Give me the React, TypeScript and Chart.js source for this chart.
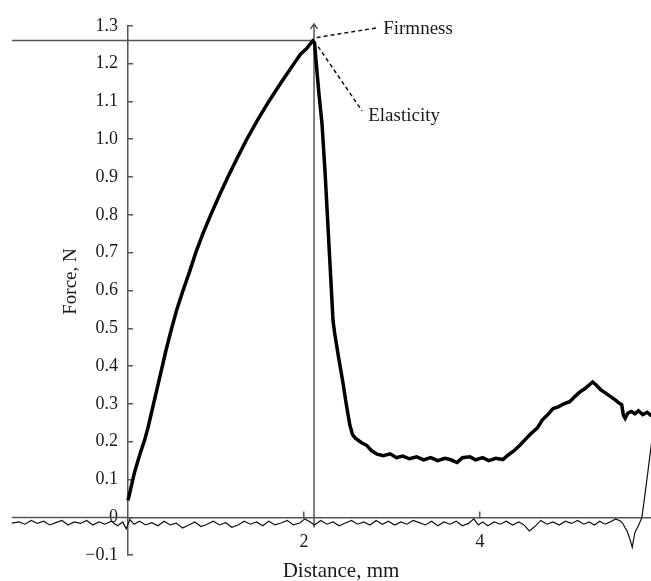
import React, { useEffect, useRef } from 'react';
import { Chart, registerables } from 'chart.js';

Chart.register(...registerables);

// ---- Data (distance in mm, force in N) ----
const compressionDistance = [
  0.0, 0.02, 0.045, 0.07, 0.1, 0.14, 0.19, 0.23, 0.27, 0.32, 0.375, 0.43, 0.49, 0.555, 0.625,
  0.7, 0.77, 0.85, 0.94, 1.035, 1.135, 1.24, 1.35, 1.47, 1.6, 1.74, 1.886, 1.96, 2.03, 2.08,
  2.1, 2.12, 2.136, 2.17, 2.205, 2.24, 2.27, 2.3, 2.33, 2.35, 2.395, 2.44, 2.48, 2.52, 2.55,
  2.58, 2.65, 2.715, 2.77, 2.83, 2.9, 2.98, 3.05, 3.12, 3.2, 3.28, 3.36, 3.44, 3.52, 3.6,
  3.66, 3.74, 3.8, 3.886, 3.95, 4.03, 4.1, 4.18, 4.26, 4.32, 4.38, 4.45, 4.51, 4.58, 4.65,
  4.71, 4.77, 4.83, 4.89, 4.95, 5.02, 5.08, 5.136, 5.19, 5.24, 5.28, 5.32, 5.37, 5.42, 5.48,
  5.54, 5.58, 5.61, 5.63, 5.65, 5.68, 5.72, 5.76, 5.8, 5.85, 5.9, 5.94, 5.98,
];
const compressionForce = [
  0.045, 0.065, 0.09, 0.115, 0.14, 0.17, 0.205, 0.24, 0.28, 0.33, 0.385, 0.44, 0.495, 0.55, 0.6,
  0.65, 0.7, 0.75, 0.8, 0.85, 0.9, 0.95, 1.0, 1.05, 1.1, 1.15, 1.2, 1.225, 1.24, 1.255,
  1.26, 1.255, 1.21, 1.12, 1.04, 0.91, 0.78, 0.65, 0.52, 0.485, 0.42, 0.36, 0.3, 0.245, 0.22,
  0.21, 0.198, 0.19, 0.176, 0.167, 0.163, 0.168, 0.158, 0.162, 0.155, 0.16, 0.152, 0.158, 0.15, 0.156,
  0.153, 0.145, 0.158, 0.16, 0.152, 0.158, 0.15, 0.156, 0.153, 0.165, 0.175, 0.19, 0.205, 0.222, 0.236,
  0.258, 0.272, 0.288, 0.292, 0.3, 0.306, 0.32, 0.332, 0.34, 0.35, 0.358, 0.35, 0.338, 0.33, 0.32,
  0.31, 0.302, 0.298, 0.27, 0.262, 0.276, 0.28, 0.274, 0.282, 0.272, 0.278, 0.27, 0.27,
];

// Return trace (probe withdrawal), listed from right to left
const returnDistance = [
  5.99, 5.965, 5.94, 5.91, 5.88, 5.86, 5.84, 5.8, 5.76, 5.73, 5.7, 5.67, 5.65, 5.62, 5.59,
  5.54, 5.48, 5.42, 5.36, 5.3, 5.24, 5.18, 5.11, 5.04, 4.97, 4.9, 4.83, 4.76, 4.69, 4.62,
  4.56, 4.5, 4.44, 4.37, 4.3, 4.23, 4.16, 4.09, 4.03, 3.98, 3.93, 3.87, 3.8, 3.73, 3.66,
  3.59, 3.52, 3.45, 3.38, 3.31, 3.24, 3.17, 3.1, 3.03, 2.96, 2.89, 2.82, 2.75, 2.68, 2.61,
  2.54, 2.47, 2.4, 2.33, 2.26, 2.19, 2.12, 2.07, 2.01, 1.95, 1.88, 1.81, 1.74, 1.67, 1.6,
  1.53, 1.46, 1.39, 1.32, 1.25, 1.18, 1.11, 1.04, 0.97, 0.9, 0.83, 0.76, 0.69, 0.62, 0.55,
  0.48, 0.41, 0.34, 0.27, 0.2, 0.13, 0.07, 0.02, -0.02, -0.06, -0.12, -0.19, -0.26, -0.33, -0.4,
  -0.47, -0.54, -0.61, -0.68, -0.75, -0.82, -0.89, -0.96, -1.03, -1.1, -1.17, -1.24, -1.32,
];
const returnForce = [
  0.26, 0.225, 0.181, 0.125, 0.07, 0.035, 0.0, -0.022, -0.04, -0.079, -0.055, -0.035, -0.028, -0.015, -0.009,
  -0.004, -0.012, -0.018, -0.01, -0.02, -0.012, -0.018, -0.008, -0.016, -0.01, -0.02, -0.012, -0.018, -0.008, -0.025,
  -0.036, -0.02, -0.012, -0.02, -0.01, -0.018, -0.012, -0.022, -0.012, -0.02, -0.004, -0.016, -0.022, -0.01, -0.018,
  -0.012, -0.022, -0.01, -0.02, -0.014, -0.008, -0.018, -0.012, -0.02, -0.01, -0.018, -0.008, -0.02, -0.012, -0.018,
  -0.008, -0.015, -0.022, -0.012, -0.018, -0.008, -0.02, -0.012, -0.004, -0.015, -0.02, -0.008, -0.015, -0.02, -0.01,
  -0.022, -0.012, -0.018, -0.01, -0.02, -0.026, -0.014, -0.02, -0.01, -0.018, -0.024, -0.012, -0.02, -0.028, -0.015,
  -0.02, -0.01, -0.022, -0.014, -0.02, -0.01, -0.018, -0.006, -0.03, -0.012, -0.022, -0.01, -0.018, -0.012, -0.02,
  -0.008, -0.016, -0.012, -0.02, -0.008, -0.014, -0.02, -0.01, -0.016, -0.008, -0.018, -0.012, -0.015,
];

const xTickValues = [2, 4, 6];
const yTickValues = [-0.1, 0, 0.1, 0.2, 0.3, 0.4, 0.5, 0.6, 0.7, 0.8, 0.9, 1.0, 1.1, 1.2, 1.3];

const X_MIN = 0;
const X_MAX = 6.5;
const Y_MIN = -0.1;
const Y_MAX = 1.3;
const AXIS_START = -1.32; // left end of the drawn distance axis

const peakDistance = 2.114;
const peakForce = 1.261;
const arrowTop = 1.305;
const guideBottom = -0.027;
const arrowDistance = [2.074, 2.114, 2.153];
const arrowForce = [1.292, 1.305, 1.292];

const firmnessLeaderDistance = [2.144, 2.84];
const firmnessLeaderForce = [1.269, 1.295];
const elasticityLeaderDistance = [2.16, 2.66];
const elasticityLeaderForce = [1.245, 1.075];
const firmnessLabelAt = [2.9, 1.292];
const elasticityLabelAt = [2.73, 1.062];

const SERIF = "'Liberation Serif', 'Times New Roman', serif";
const AXIS_GRAY = '#555555';
const TEXT = '#1a1a1a';

const pts = (xs: number[], ys: number[]) => xs.map((x, i) => ({ x, y: ys[i] }));

const textPlugin = {
  id: 'figureText',
  afterDatasetsDraw(chart: any) {
    const { ctx, chartArea, scales } = chart;
    const x = scales.x;
    const y = scales.y;
    ctx.save();
    ctx.fillStyle = TEXT;
    ctx.font = `19px ${SERIF}`;
    ctx.textAlign = 'left';
    ctx.textBaseline = 'middle';
    ctx.fillText('Firmness', x.getPixelForValue(firmnessLabelAt[0]), y.getPixelForValue(firmnessLabelAt[1]));
    ctx.fillText('Elasticity', x.getPixelForValue(elasticityLabelAt[0]), y.getPixelForValue(elasticityLabelAt[1]));

    // axis titles
    ctx.textAlign = 'center';
    ctx.font = `21px ${SERIF}`;
    ctx.fillText('Distance, mm', chartArea.left + 213, chartArea.bottom + 16);
    ctx.font = `19px ${SERIF}`;
    ctx.translate(chartArea.left - 57, (chartArea.top + chartArea.bottom) / 2 - 9);
    ctx.rotate(-Math.PI / 2);
    ctx.fillText('Force, N', 0, 0);
    ctx.restore();
  },
};

export default function App() {
  const canvasRef = useRef<HTMLCanvasElement>(null);

  useEffect(() => {
    if (!canvasRef.current) return;
    const guide = { borderColor: AXIS_GRAY, borderWidth: 1.5, pointRadius: 0, clip: false as const };
    const chart = new Chart(canvasRef.current, {
      type: 'line',
      data: {
        datasets: [
          {
            label: 'Compression',
            data: pts(compressionDistance, compressionForce),
            borderColor: '#000000',
            borderWidth: 3.5,
            pointRadius: 0,
            clip: false,
          },
          {
            label: 'Return',
            data: pts(returnDistance, returnForce),
            borderColor: '#111111',
            borderWidth: 1.2,
            pointRadius: 0,
            clip: false,
          },
          { label: 'Axis', data: pts([0, AXIS_START], [0, 0]), ...guide },
          { label: 'Peak force', data: pts([peakDistance, AXIS_START], [peakForce, peakForce]), ...guide },
          { label: 'Peak distance', data: pts([peakDistance, peakDistance], [arrowTop, guideBottom]), ...guide },
          { label: 'Arrow', data: pts(arrowDistance, arrowForce), ...guide, borderColor: '#333', borderWidth: 1.2 },
          {
            label: 'Firmness',
            data: pts(firmnessLeaderDistance, firmnessLeaderForce),
            borderColor: '#111',
            borderWidth: 1.5,
            borderDash: [4, 3],
            pointRadius: 0,
            clip: false,
          },
          {
            label: 'Elasticity',
            data: pts(elasticityLeaderDistance, elasticityLeaderForce),
            borderColor: '#111',
            borderWidth: 1.5,
            borderDash: [4, 3],
            pointRadius: 0,
            clip: false,
          },
        ],
      },
      options: {
        animation: false,
        responsive: false,
        maintainAspectRatio: false,
        layout: { padding: { left: 0, top: 21, right: 0, bottom: 23 } },
        plugins: { legend: { display: false }, tooltip: { enabled: false } },
        elements: { line: { tension: 0 }, point: { radius: 0 } },
        scales: {
          x: {
            type: 'linear',
            position: { y: 0 } as any,
            bounds: 'data',
            afterDataLimits: (s: any) => {
              s.min = X_MIN;
              s.max = X_MAX;
            },
            afterBuildTicks: (s: any) => {
              s.ticks = xTickValues.map((v) => ({ value: v }));
            },
            border: { display: true, color: AXIS_GRAY, width: 1.5 },
            grid: {
              display: true,
              drawOnChartArea: false,
              drawTicks: true,
              tickLength: -7,
              color: AXIS_GRAY,
              lineWidth: 1.5,
            },
            ticks: {
              padding: 21,
              color: TEXT,
              font: { family: SERIF, size: 18 },
              maxRotation: 0,
              autoSkip: false,
              callback: (v: any) => String(v),
            },
          },
          y: {
            type: 'linear',
            position: 'left',
            min: Y_MIN,
            max: Y_MAX,
            afterBuildTicks: (s: any) => {
              s.ticks = yTickValues.map((v) => ({ value: v }));
            },
            afterFit: (s: any) => {
              s.width = 128;
            },
            border: { display: true, color: AXIS_GRAY, width: 1.5 },
            grid: {
              display: true,
              drawOnChartArea: false,
              drawTicks: true,
              tickLength: -5,
              color: AXIS_GRAY,
              lineWidth: 1.5,
            },
            ticks: {
              padding: 15,
              color: TEXT,
              font: { family: SERIF, size: 18 },
              autoSkip: false,
              callback: (v: any) => {
                const n = Number(v);
                if (Math.abs(n) < 1e-9) return '0';
                return n < 0 ? '\u2212' + Math.abs(n).toFixed(1) : n.toFixed(1);
              },
            },
          },
        },
      },
      plugins: [textPlugin],
    });
    return () => chart.destroy();
  }, []);

  return (
    <div
      style={{
        position: 'fixed',
        left: 0,
        top: 0,
        width: 651,
        height: 581,
        overflow: 'hidden',
        background: '#ffffff',
      }}
    >
      <canvas ref={canvasRef} width={700} height={581} style={{ display: 'block', width: 700, height: 581 }} />
    </div>
  );
}
